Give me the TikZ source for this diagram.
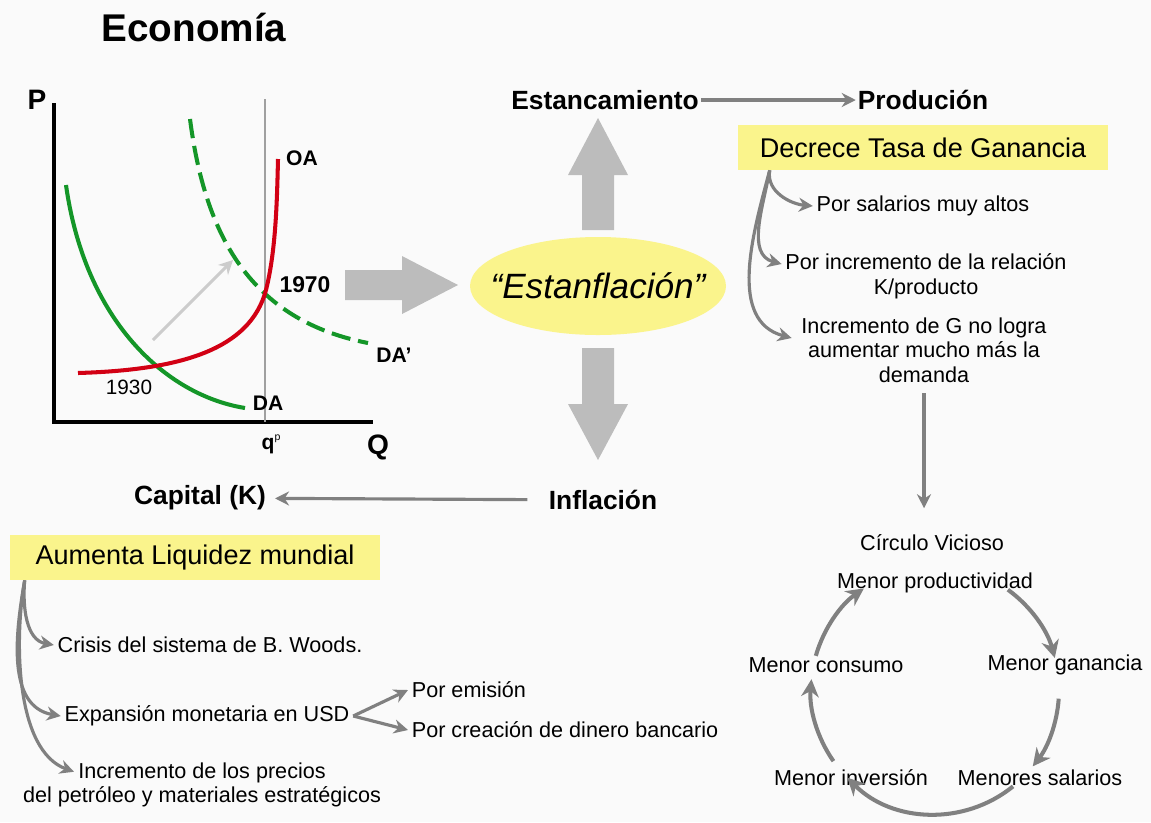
\documentclass[tikz,border=0pt]{standalone}
\usepackage{fontspec}
\setmainfont{Liberation Sans}
\usetikzlibrary{arrows.meta,calc}

\definecolor{amarillo}{RGB}{250,244,140}
\definecolor{fondo}{RGB}{250,250,250}
\definecolor{flecha}{RGB}{128,128,128}
\definecolor{bloque}{RGB}{188,188,188}
\definecolor{rojo}{RGB}{210,0,20}
\definecolor{verde}{RGB}{20,150,40}

\tikzset{
	txt/.style={font=\fontsize{12.3}{14}\selectfont, align=center, inner sep=2pt},
	negrita/.style={font=\fontsize{15}{18}\selectfont\bfseries, inner sep=1pt},
	eje/.style={font=\fontsize{12}{14}\selectfont\bfseries, inner sep=1pt},
	caja/.style={fill=amarillo, minimum width=7.4cm, minimum height=0.9cm, font=\fontsize{15.4}{18}\selectfont},
	conn/.style={draw=flecha, line width=1.8pt, -{Stealth[length=8pt,width=8pt]}},
	ciclo/.style={draw=flecha, line width=2.3pt, -{Stealth[length=10pt,width=10pt]}},
	curva/.style={line width=2.3pt}
}

\begin{document}
\begin{tikzpicture}[x=0.02cm,y=0.02cm]
			\useasboundingbox (0,0) rectangle (1151,-822);
			\fill[fondo] (0,0) rectangle (1151,-822);
			
			\node[font=\fontsize{22}{26}\selectfont\bfseries] (titulo) at (194,-28) {Economía};
			
			% grafico OA - DA
			\draw[line width=2.3pt] (54,-103) -- (54,-422) -- (373,-422);
			\draw[flecha!75, line width=1.7pt] (265,-99) -- (265,-422);
			\draw[black!20, line width=1.7pt, -{Stealth[length=8pt,width=8pt]}] (153,-340) -- (233,-260);
			\draw[curva, verde] (66,-185) .. controls (85,-320) and (165,-395) .. (245,-408);
			\draw[curva, verde, dash pattern=on 11pt off 4.5pt] (190,-119) .. controls (205,-235) and (250,-320) .. (368,-343);
			\draw[curva, rojo] (78,-373) .. controls (180,-370) and (250,-350) .. (266,-290) .. controls (276,-250) and (277,-200) .. (278,-159);
			
			\node[eje, font=\fontsize{16}{18}\selectfont\bfseries] (ejeP) at (37,-100) {P};
			\node[eje, font=\fontsize{16}{18}\selectfont\bfseries] (ejeQ) at (378,-447) {Q};
			\node[eje] (qp) at (271,-444) {q\raisebox{5pt}{\fontsize{6}{6}\selectfont\mdseries p}};
			\node[eje] (OA) at (302,-158) {OA};
			\node[eje] (DA) at (268,-403) {DA};
			\node[eje] (DAp) at (394,-355) {DA’};
			\node[eje, font=\fontsize{11.8}{14}\selectfont] (a1930) at (129,-387) {1930};
			\node[eje, font=\fontsize{13}{14}\selectfont\bfseries] (a1970) at (305,-285) {1970};
			
			% flechas grandes
			\fill[bloque] (345,-270) -- (402,-270) -- (402,-256) -- (458,-285) -- (402,-314) -- (402,-300) -- (345,-300) -- cycle;
			\fill[bloque] (582,-230) -- (582,-175) -- (568,-175) -- (598,-118) -- (628,-175) -- (614,-175) -- (614,-230) -- cycle;
			\fill[bloque] (582,-348) -- (582,-404) -- (568,-404) -- (598,-460) -- (628,-404) -- (614,-404) -- (614,-348) -- cycle;
			
			\fill[amarillo] (598,-286) ellipse [x radius=128, y radius=49];
			\node[font=\fontsize{20}{24}\selectfont\itshape] (stf) at (598,-286) {“Estanflación”};
			
			\node[negrita] (est) at (605,-100) {Estancamiento};
			\node[negrita] (prod) at (923,-100) {Produción};
			\node[negrita] (infl) at (603,-500) {Inflación};
			\node[negrita] (cap) at (200,-498) {Capital (K)};
			\draw[conn] (est) -- (prod);
			\draw[conn, shorten <=11pt, shorten >=4pt] (infl) -- (cap);
			
			% lado derecho
			\node[caja] (dtg) at (923,-147.5) {Decrece Tasa de Ganancia};
			\node[txt] (s1) at (923,-206) {Por salarios muy altos};
			\node[txt] (s2) at (926,-276) {Por incremento de la relación\\K/producto};
			\node[txt] (s3) at (924,-350) {Incremento de G no logra\\aumentar mucho más la\\demanda};
			\coordinate (dtgpie) at ($(dtg.south west)+(32,0)$);
			\draw[conn] (dtgpie) to[out=-100,in=175] (s1.west);
			\draw[conn] (dtgpie) to[out=-100,in=165] ($(s2.west)+(0,12)$);
			\draw[conn] (dtgpie) to[out=-105,in=165] ($(s3.west)+(-6,12)$);
			
			\node[txt] (cv) at (932,-543) {Círculo Vicioso};
			\draw[conn, shorten <=4pt, shorten >=13pt] (s3.south) -- (s3.south |- cv.north);
			
			% circulo vicioso
			\node[txt] (mprod) at (935,-583) {Menor productividad};
			\node[txt] (mgan) at (1065,-665) {Menor ganancia};
			\node[txt] (msal) at (1040,-778) {Menores salarios};
			\node[txt] (minv) at (851,-778) {Menor inversión};
			\node[txt] (mcon) at (826,-665) {Menor consumo};
			\coordinate (ctr) at (935,-690);
			\draw[ciclo] ($(ctr)+(54:124)$) arc[start angle=54, end angle=15, radius=124];
			\draw[ciclo] ($(ctr)+(-4:124)$) arc[start angle=-4, end angle=-38, radius=124];
			\draw[ciclo] ($(ctr)+(-51:124)$) arc[start angle=-51, end angle=-135, radius=124];
			\draw[ciclo] ($(ctr)+(-145:124)$) arc[start angle=-145, end angle=-185, radius=124];
			\draw[ciclo] ($(ctr)+(164:124)$) arc[start angle=164, end angle=125, radius=124];
			
			% lado izquierdo
			\node[caja] (alm) at (195,-557.5) {Aumenta Liquidez mundial};
			\node[txt] (b1) at (210,-645) {Crisis del sistema de B. Woods.};
			\node[txt] (b2) at (207,-716) {Expansión monetaria en USD};
			\node[txt] (b3) at (202,-785) {Incremento de los precios\\del petróleo y materiales estratégicos};
			\node[txt, anchor=west] (e1) at (408,-690) {Por emisión};
			\node[txt, anchor=west] (e2) at (408,-730) {Por creación de dinero bancario};
			\coordinate (almpie) at ($(alm.south west)+(15,0)$);
			\draw[conn] (almpie) to[out=-95,in=170] (b1.west);
			\draw[conn] (almpie) to[out=-100,in=170] (b2.west);
			\draw[conn] (almpie) to[out=-100,in=160, looseness=0.8] ($(b3.north)+(-128,-13)$);
			\draw[conn] (b2.east) -- (e1.west);
			\draw[conn] (b2.east) -- (e2.west);
		\end{tikzpicture}
\end{document}
